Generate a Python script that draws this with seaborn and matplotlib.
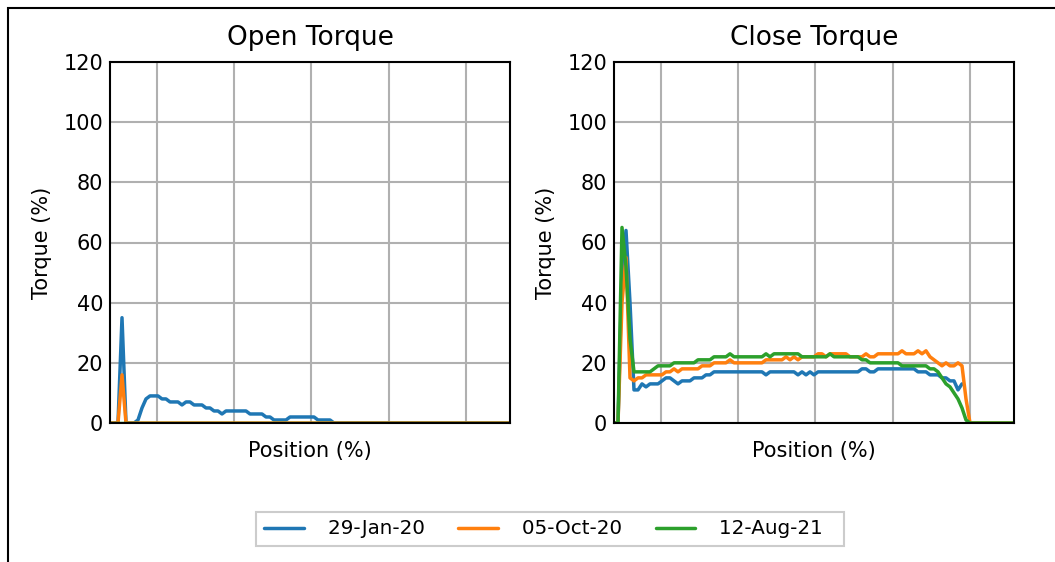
import pandas as pd
import seaborn as sns
import matplotlib.pyplot as plt
from matplotlib.lines import Line2D
from matplotlib.patches import Rectangle

# Legend entries (one per recorded stroke)
dates = ['29-Jan-20', '05-Oct-20', '12-Aug-21']
colors = ['#1f77b4', '#ff7f0e', '#2ca02c']

# Valve position in % (sample points)
position = list(range(101))

# Open torque (%) per date
open_jan20 = [0, 0, 0, 35, 0, 0, 0, 1, 5, 8,
              9, 9, 9, 8, 8, 7, 7, 7, 6, 7,
              7, 6, 6, 6, 5, 5, 4, 4, 3, 4,
              4, 4, 4, 4, 4, 3, 3, 3, 3, 2,
              2, 1, 1, 1, 1, 2, 2, 2, 2, 2,
              2, 2, 1, 1, 1, 1, 0, 0, 0, 0,
              0, 0, 0, 0, 0, 0, 0, 0, 0, 0,
              0, 0, 0, 0, 0, 0, 0, 0, 0, 0,
              0, 0, 0, 0, 0, 0, 0, 0, 0, 0,
              0, 0, 0, 0, 0, 0, 0, 0, 0, 0,
              0]
open_oct20 = [0, 0, 0, 16, 0, 0, 0, 0, 0, 0,
              0, 0, 0, 0, 0, 0, 0, 0, 0, 0,
              0, 0, 0, 0, 0, 0, 0, 0, 0, 0,
              0, 0, 0, 0, 0, 0, 0, 0, 0, 0,
              0, 0, 0, 0, 0, 0, 0, 0, 0, 0,
              0, 0, 0, 0, 0, 0, 0, 0, 0, 0,
              0, 0, 0, 0, 0, 0, 0, 0, 0, 0,
              0, 0, 0, 0, 0, 0, 0, 0, 0, 0,
              0, 0, 0, 0, 0, 0, 0, 0, 0, 0,
              0, 0, 0, 0, 0, 0, 0, 0, 0, 0,
              0]
open_aug21 = [0, 0, 0, 0, 0, 0, 0, 0, 0, 0,
              0, 0, 0, 0, 0, 0, 0, 0, 0, 0,
              0, 0, 0, 0, 0, 0, 0, 0, 0, 0,
              0, 0, 0, 0, 0, 0, 0, 0, 0, 0,
              0, 0, 0, 0, 0, 0, 0, 0, 0, 0,
              0, 0, 0, 0, 0, 0, 0, 0, 0, 0,
              0, 0, 0, 0, 0, 0, 0, 0, 0, 0,
              0, 0, 0, 0, 0, 0, 0, 0, 0, 0,
              0, 0, 0, 0, 0, 0, 0, 0, 0, 0,
              0, 0, 0, 0, 0, 0, 0, 0, 0, 0,
              0]

# Close torque (%) per date
close_jan20 = [0, 0, 50, 64, 40, 11, 11, 13, 12, 13,
               13, 13, 14, 15, 15, 14, 13, 14, 14, 14,
               15, 15, 15, 16, 16, 17, 17, 17, 17, 17,
               17, 17, 17, 17, 17, 17, 17, 17, 16, 17,
               17, 17, 17, 17, 17, 17, 16, 17, 16, 17,
               16, 17, 17, 17, 17, 17, 17, 17, 17, 17,
               17, 17, 18, 18, 17, 17, 18, 18, 18, 18,
               18, 18, 18, 18, 18, 18, 17, 17, 17, 16,
               16, 16, 15, 15, 14, 14, 11, 13]
close_oct20 = [0, 0, 40, 55, 15, 14, 15, 15, 16, 16,
               16, 16, 16, 17, 17, 18, 17, 18, 18, 18,
               18, 18, 19, 19, 19, 20, 20, 20, 20, 21,
               20, 20, 20, 20, 20, 20, 20, 20, 21, 21,
               21, 21, 21, 22, 21, 22, 21, 22, 22, 22,
               22, 23, 23, 22, 23, 23, 23, 23, 23, 22,
               22, 22, 22, 23, 22, 22, 23, 23, 23, 23,
               23, 23, 24, 23, 23, 23, 24, 23, 24, 22,
               21, 20, 19, 20, 19, 19, 20, 19, 8, 0,
               0, 0, 0, 0, 0, 0, 0, 0, 0, 0,
               0]
close_aug21 = [0, 0, 65, 52, 28, 17, 17, 17, 17, 17,
               18, 19, 19, 19, 19, 20, 20, 20, 20, 20,
               20, 21, 21, 21, 21, 22, 22, 22, 22, 23,
               22, 22, 22, 22, 22, 22, 22, 22, 23, 22,
               23, 23, 23, 23, 23, 23, 23, 22, 22, 22,
               22, 22, 22, 22, 23, 22, 22, 22, 22, 22,
               22, 22, 21, 21, 20, 20, 20, 20, 20, 20,
               20, 20, 19, 19, 19, 19, 19, 19, 19, 18,
               18, 17, 15, 13, 12, 10, 8, 5, 1, 0,
               0, 0, 0, 0, 0, 0, 0, 0, 0, 0,
               0]


def to_long(series):
    frames = []
    for d, vals in zip(dates, series):
        frames.append(pd.DataFrame({'Position': position[:len(vals)],
                                    'Torque': vals, 'Date': d}))
    return pd.concat(frames, ignore_index=True)


open_df = to_long([open_jan20, open_oct20, open_aug21])
close_df = to_long([close_jan20, close_oct20, close_aug21])

sns.set_style('white')
plt.rcParams['font.family'] = ['DejaVu Sans']
plt.rcParams['text.color'] = 'black'
plt.rcParams['axes.labelcolor'] = 'black'
plt.rcParams['ytick.color'] = 'black'

fig = plt.figure(figsize=(10.55, 5.62), dpi=100)
ax1 = fig.add_axes([110 / 1055, 1 - 423 / 562, 400 / 1055, 361 / 562])
ax2 = fig.add_axes([614 / 1055, 1 - 423 / 562, 400 / 1055, 361 / 562])

grid_x = [11.75, 31.05, 50.35, 69.65, 88.95]

for ax, df, title in [(ax1, open_df, 'Open Torque'), (ax2, close_df, 'Close Torque')]:
    sns.lineplot(data=df, x='Position', y='Torque', hue='Date', hue_order=dates,
                 palette=colors, linewidth=2.5, legend=False, ax=ax)
    ax.set_xlim(0, 100)
    ax.set_ylim(0, 120)
    ax.set_yticks(range(0, 121, 20))
    ax.set_xticks(grid_x)
    ax.set_xticklabels([])
    ax.tick_params(length=0, labelsize=15, pad=5)
    ax.grid(True, color='#b0b0b0', linewidth=1.5)
    ax.set_axisbelow(True)
    for s in ax.spines.values():
        s.set_color('black')
        s.set_linewidth(1.5)
    ax.set_title(title, fontsize=19, pad=12)
    ax.set_xlabel('Position (%)', fontsize=15, labelpad=8)
    ax.set_ylabel('Torque (%)', fontsize=15, labelpad=8)

handles = [Line2D([], [], color=c, linewidth=2.5) for c in colors]
# trailing spaces reproduce the extra room on the right of the legend box
labels = [d + '  ' for d in dates]
leg = fig.legend(handles, labels, loc='center',
                 bbox_to_anchor=(550 / 1055, 1 - 529 / 562),
                 ncol=3, fontsize=14.3, frameon=True, fancybox=False,
                 edgecolor='#cccccc', framealpha=1,
                 handlelength=2.0, handletextpad=1.2, columnspacing=1.05)
leg.get_frame().set_linewidth(1.5)

# outer frame of the (cropped) figure
fig.add_artist(Rectangle((8 / 1055, -0.5), 2, 1.5 - 8 / 562, transform=fig.transFigure,
                         fill=False, edgecolor='black', linewidth=1.5, clip_on=False))

fig.savefig('out.png', dpi=100, facecolor='white')
